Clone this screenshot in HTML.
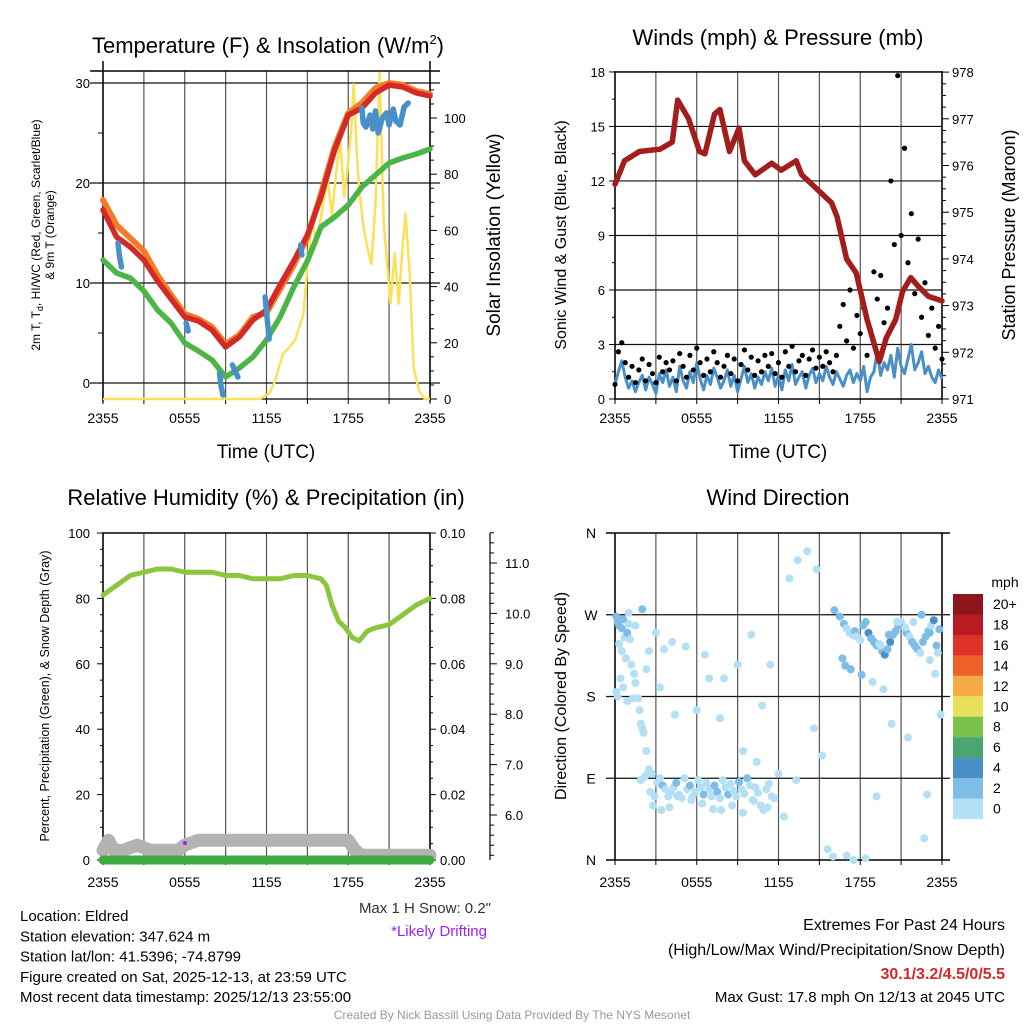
<!DOCTYPE html>
<html><head><meta charset="utf-8"><style>
html,body{margin:0;padding:0;background:#fff}
svg{display:block;font-family:"Liberation Sans",Arial,sans-serif}
</style></head><body>
<svg id="c" width="1024" height="1024" viewBox="0 0 1024 1024" xmlns="http://www.w3.org/2000/svg"></svg>
<script>
// ---------- DATA ----------
const xTickLabels = ["2355","0555","1155","1755","2355"];
const hourly = [0,1,2,3,4,5,6,7,8,9,10,11,12,13,14,15,16,17,18,19,20,21,22,23,24];
const tempRed = [17.3,14.6,13.6,12.3,10.2,8.4,6.6,6.2,5.3,3.6,4.6,6.3,7.3,9.8,12.2,14.8,18.6,23.3,26.8,27.5,29.0,29.8,29.6,29.0,28.7];
const tempOrange = [18.3,15.8,14.5,13.2,10.8,8.8,6.9,6.4,5.6,3.9,4.8,6.6,7.0,9.4,11.8,14.6,18.9,23.6,27.0,28.0,29.5,30.0,29.8,29.2,28.9];
const dewGreen = [12.3,11.0,10.5,9.2,7.3,6.0,4.0,3.2,2.3,0.6,1.5,2.6,4.3,6.6,9.6,12.2,15.6,16.6,17.8,19.6,20.8,22.0,22.5,22.9,23.4];
const hiwcHours = [1.1,1.2,1.35,null,6.1,6.25,null,8.55,8.65,8.8,null,9.5,9.7,9.9,null,11.9,12.05,12.2,null,14.5,14.6,null,19.0,19.1,19.3,19.6,19.8,20.0,20.2,20.5,20.8,21.0,21.3,21.5,21.8,22.1,22.4];
const hiwcVals = [14.0,12.8,11.6,null,6.0,5.2,null,1.0,-0.2,-1.2,null,1.8,1.2,0.6,null,8.6,6.4,4.4,null,13.8,12.8,null,27.5,26.0,25.6,26.8,25.4,27.2,25.0,26.5,27.0,25.8,27.4,26.2,25.8,27.6,28.0];
const solarHours = [0,11.5,12.2,12.6,13.2,13.6,14.1,14.7,15.3,15.7,16.2,16.5,16.8,17.1,17.4,17.7,17.9,18.2,18.4,18.6,18.8,19.1,19.4,19.7,20.0,20.3,20.6,20.9,21.1,21.4,21.7,22.0,22.2,22.5,22.8,23.2,23.6,24];
const solarVals = [0,0,2,6,16,18,21,30,64,55,71,78,65,80,93,72,80,95,112,90,75,62,54,48,70,116,63,45,34,52,34,55,66,45,11,3,0,0];
const windSpeed = [0.8,1.5,2.1,1.2,0.6,1.0,0.4,0.9,1.3,0.5,1.2,0.8,0.3,1.4,0.9,1.6,
0.7,1.2,0.4,1.8,1.0,0.6,1.5,0.9,2.0,1.1,0.5,1.3,0.8,1.7,1.2,0.6,
1.0,1.6,0.7,1.3,0.4,1.1,1.8,0.9,1.4,0.6,1.2,0.8,1.5,1.0,1.7,0.7,
1.3,0.5,1.6,1.0,1.9,0.8,1.2,1.5,0.6,1.3,1.7,0.9,1.4,1.0,1.8,1.2,
0.8,1.5,1.1,0.7,1.3,1.6,0.9,1.4,1.0,1.8,0.4,1.2,1.5,2.6,1.3,2.0,
1.6,2.4,1.2,2.8,1.8,1.4,2.2,3.0,1.6,2.0,2.6,1.4,1.8,1.2,0.9,1.6,1.1];
const windGust = [0.8,2.6,3.1,2.0,1.2,1.8,0.9,1.6,2.2,1.0,1.9,1.4,0.9,2.3,1.5,2.0,
1.6,2.1,1.0,2.5,1.8,1.2,2.4,1.6,2.8,2.0,1.3,2.2,1.5,2.6,2.0,1.2,
1.8,2.4,1.4,2.2,1.0,1.9,2.7,1.6,2.3,1.3,2.1,1.5,2.4,1.8,2.5,1.4,
2.0,1.2,2.6,1.8,2.9,1.5,2.1,2.4,1.3,2.2,2.7,1.7,2.3,1.8,2.6,2.0,
1.5,2.4,4.0,5.2,3.2,6.0,2.8,4.6,3.6,5.0,2.4,3.8,7.0,5.5,6.8,4.2,
5.0,12.0,8.5,17.8,9.0,13.8,7.5,10.2,5.8,8.8,4.5,6.4,3.5,5.0,2.8,4.0,2.2];
const pressHours = [0,0.7,1.8,3.3,4.2,4.6,5.4,6.2,6.6,7.3,7.7,8.4,9.1,9.5,10.3,11.5,12.2,13.3,13.7,14.8,15.9,16.3,17.0,17.7,18.5,19.0,19.4,19.9,20.6,21.1,21.7,22.3,23.0,24];
const pressVals = [975.6,976.1,976.3,976.35,976.5,977.4,977.0,976.3,976.25,977.1,977.2,976.3,976.8,976.1,975.8,976.05,975.9,976.1,975.8,975.5,975.2,974.9,974.0,973.7,972.7,972.2,971.8,972.3,972.7,973.3,973.6,973.4,973.2,973.1];
const rhHours = [0,1,2,3,4,5,6,8,9,10,11,12,13,14,15,16,16.4,16.8,17.3,17.8,18.3,18.8,19.4,20,21,22,23,24];
const rhVals = [81,84,87,88,89,89,88,88,87,87,86,86,86,87,87,86,84,78,73,71,68,67,70,71,72,75,78,80];
const snowHours = [0,0.4,0.8,1.5,2.5,3.5,4.5,5.5,6.0,7.0,8.0,9.0,10,11,12,13,14,15,16,17,18,18.5,19,20,21,22,23,24];
const snowVals = [5.3,5.5,5.3,5.3,5.4,5.3,5.3,5.3,5.4,5.5,5.5,5.5,5.5,5.5,5.5,5.5,5.5,5.5,5.5,5.5,5.5,5.3,5.2,5.2,5.2,5.2,5.2,5.2];
const dirHours = [0.1,0.2,0.3,0.5,0.6,0.7,0.9,1.0,1.1,0.3,0.5,0.8,1.2,1.4,0.1,0.2,0.4,0.6,0.9,1.3,1.5,1.7,1.8,1.9,2.0,2.1,2.3,2.5,2.7,1.9,2.2,2.4,2.6,2.9,3.1,3.3,3.5,3.7,3.9,4.1,4.3,4.5,4.7,4.9,5.1,5.3,5.5,5.7,5.9,6.1,6.3,6.5,6.7,6.9,7.1,7.3,7.5,7.7,7.9,8.1,8.3,8.5,8.7,8.9,9.1,9.3,9.5,9.7,9.9,10.1,10.3,10.5,10.7,10.9,11.1,11.3,11.5,11.7,2.8,3.4,4.0,4.6,5.6,6.4,7.2,7.8,8.6,9.4,10.2,11.2,3.0,4.2,5.2,6.6,8.0,9.0,10.0,1.0,1.5,2.0,2.5,3.6,2.3,4.4,3.3,7.7,6.0,6.9,9.4,10.4,12.0,13.3,14.6,16.1,16.5,16.8,17.0,17.2,17.4,17.6,17.8,18.0,18.2,18.4,18.6,18.8,19.0,19.2,19.4,19.6,19.8,20.0,20.2,20.4,20.6,20.8,21.0,21.2,21.4,21.6,21.8,22.0,22.2,22.4,22.6,22.8,23.0,23.2,23.4,23.6,23.8,16.7,17.3,18.1,18.9,19.5,20.1,20.7,21.3,21.9,22.5,23.1,23.7,16.9,17.7,19.7,20.3,21.5,22.9,12.4,12.8,13.4,14.1,14.8,15.2,15.6,16.0,17.0,17.5,18.4,19.2,22.7,23.1,23.5,23.9,10.8,11.4];
const dirVals = [268,262,258,255,265,245,250,260,243,238,230,222,215,205,185,180,200,190,175,178,195,178,165,150,145,140,120,100,95,88,92,95,75,70,85,90,82,78,70,74,80,85,72,68,90,78,82,70,75,88,80,72,85,78,70,82,75,68,88,80,72,84,76,70,86,78,73,90,82,66,80,74,60,55,78,84,70,68,60,55,58,70,66,62,56,55,60,52,65,58,250,240,235,226,200,215,248,272,258,276,230,232,210,160,190,156,165,200,120,108,95,88,145,275,268,260,255,250,248,252,246,242,258,262,250,244,240,236,238,230,226,232,240,248,252,258,262,256,250,246,240,236,232,228,240,246,252,258,264,236,254,222,210,204,196,236,248,262,256,262,270,250,228,214,246,188,150,135,72,48,310,330,340,320,115,12,4,5,0,2,70,24,220,205,160,170,215,212,20,30];
const dirSpeed = [1,1,1,1,1,0,1,0,0,0,0,0,0,0,0,0,0,0,0,0,0,0,0,0,0,0,0,0,0,0,0,0,0,0,0,0,1,0,0,0,0,1,0,0,0,0,1,0,0,0,0,1,0,0,0,1,1,0,0,0,1,0,0,0,1,0,0,1,0,0,0,0,0,0,0,0,0,0,0,0,0,0,0,0,0,0,0,0,0,0,0,0,0,0,0,0,0,0,0,1,0,0,0,0,0,0,0,0,0,0,0,0,0,1,1,1,0,0,0,1,1,0,1,1,2,1,1,1,0,1,2,1,2,1,1,1,0,1,1,0,1,1,1,0,1,1,1,0,2,1,1,1,1,1,0,0,1,0,0,0,1,1,0,1,0,0,0,0,0,0,0,0,0,0,0,0,0,0,0,0,0,0,0,0,0,0,0,0,0,0,0,0,0,0];
const colorLevels = ["20+","18","16","14","12","10","8","6","4","2","0"];
const colorSwatches = ["#8e1519","#b81b22","#dc3227","#ef6129","#f6a944","#e6e05a","#7bc14a","#4aa66f","#4a90c8","#7dbde6","#b3e0f5"];

// ---------- HELPERS ----------
const NS="http://www.w3.org/2000/svg";
const svg=document.getElementById('c');
function mk(tag,attrs,parent){const e=document.createElementNS(NS,tag);for(const k in attrs)e.setAttribute(k,attrs[k]);(parent||svg).appendChild(e);return e;}
function txt(s,x,y,size,anchor,parent,extra){const e=mk('text',Object.assign({x:x,y:y,'font-size':size,'text-anchor':anchor||'middle',fill:'#000'},extra||{}),parent);e.textContent=s;return e;}
function lin(x1,y1,x2,y2,stroke,w,parent){return mk('line',{x1,y1,x2,y2,stroke,'stroke-width':w},parent);}
function linePath(hs,vs,fx,fy){let d='',pen=false;for(let i=0;i<hs.length;i++){if(hs[i]===null||vs[i]===null){pen=false;continue;}d+=(pen?'L':'M')+fx(hs[i]).toFixed(1)+','+fy(vs[i]).toFixed(1);pen=true;}return d;}

function panel(name,L,R,T,B){
  const g=mk('g',{},svg);
  
  
  const fx=h=>L+h/24*(R-L);
  return {g,fx,L,R,T,B};
}
function timeAxis(p,labY,grid){
  for(let k=0;k<=8;k++){const x=p.fx(k*3);
    if(grid){const gl=lin(x,p.T,x,p.B,'#555',1.2,p.g);}
    lin(x,p.B,x,p.B+5,'#000',1,p.g);}
  xTickLabels.forEach((s,i)=>{const t=txt(s,p.fx(i*6),labY,14,'middle',p.g);});
}

// ---------- PANEL 1 ----------
{
const p=panel('temperature-panel',103,430,71,399);
const fy=v=>383-v*10, fs=v=>399-v*2.81;
timeAxis(p,423,true);
[0,10,20,30].forEach(v=>{const gl=lin(90,fy(v),440,fy(v),'#111',1.2,p.g);});
lin(90,p.T,440,p.T,'#000',1.5,p.g);
lin(p.L,p.T-10,p.L,p.B+3,'#000',1.5,p.g);
lin(p.R,p.T-10,p.R,p.B+3,'#000',1.5,p.g);
lin(p.L,p.B,p.R,p.B,'#000',1.2,p.g);
for(let v=0;v<=30;v+=5){lin(p.L-5,fy(v),p.L,fy(v),'#000',1,p.g);}
[0,10,20,30].forEach(v=>{const t=txt(String(v),90,fy(v)+5,13,'end',p.g);});
for(let v=0;v<=110;v+=5){lin(p.R,fs(v),p.R+(v%20==0?7:4),fs(v),'#000',1,p.g);}
[0,20,40,60,80,100].forEach(v=>{const t=txt(String(v),p.R+14,fs(v)+5,13,'start',p.g);});
const so=mk('path',{d:linePath(solarHours,solarVals,p.fx,fs),fill:'none',stroke:'#fbe158','stroke-width':2.5,'stroke-linejoin':'round'},p.g);

const or=mk('path',{d:linePath(hourly,tempOrange,p.fx,fy),fill:'none',stroke:'#f47b2a','stroke-width':6,'stroke-linejoin':'round','stroke-linecap':'round'},p.g);

const rd=mk('path',{d:linePath(hourly,tempRed,p.fx,fy),fill:'none',stroke:'#d42a26','stroke-width':5.5,'stroke-linejoin':'round','stroke-linecap':'round'},p.g);

const gr=mk('path',{d:linePath(hourly,dewGreen,p.fx,fy),fill:'none',stroke:'#4bb547','stroke-width':5.5,'stroke-linejoin':'round','stroke-linecap':'round'},p.g);

const bl=mk('path',{d:linePath(hiwcHours,hiwcVals,p.fx,fy),fill:'none',stroke:'#4a90c8','stroke-width':5.5,'stroke-linejoin':'round','stroke-linecap':'round'},p.g);

const t1=mk('text',{x:268,y:53,'font-size':22,'text-anchor':'middle',fill:'#000'},p.g);
t1.innerHTML='Temperature (F) &amp; Insolation (W/m<tspan font-size="13" dy="-9">2</tspan><tspan dy="9">)</tspan>';

const a1=mk('text',{x:0,y:0,'font-size':12,'text-anchor':'middle',fill:'#000',transform:'translate(40,235) rotate(-90)'},p.g);
a1.innerHTML='2m T, T<tspan font-size="9" dy="3">d</tspan><tspan dy="-3">, HI/WC (Red, Green, Scarlet/Blue)</tspan>';

txt('& 9m T (Orange)',0,0,12,'middle',p.g,{transform:'translate(54,235) rotate(-90)'});
const a2=txt('Solar Insolation (Yellow)',0,0,19,'middle',p.g,{transform:'translate(500,235) rotate(-90)'});

const xt=txt('Time (UTC)',266,458,19,'middle',p.g);
}

// ---------- PANEL 2 ----------
{
const p=panel('wind-pressure-panel',615,942,71,399);
const fy=v=>399-v*18.17, fp=v=>399-(v-971)*46.7;
timeAxis(p,423,true);
[3,6,9,12,15].forEach(v=>{const gl=lin(p.L,fy(v),p.R,fy(v),'#111',1.2,p.g);});
mk('rect',{x:p.L,y:fy(18),width:p.R-p.L,height:fy(0)-fy(18),fill:'none',stroke:'#000','stroke-width':1.5},p.g);
for(let v=0;v<=18;v+=1.5){lin(p.L-(v%3==0?6:3),fy(v),p.L,fy(v),'#000',1,p.g);}
[0,3,6,9,12,15,18].forEach(v=>{const t=txt(String(v),p.L-10,fy(v)+5,13,'end',p.g);});
for(let v=971;v<=978;v+=0.25){lin(p.R,fp(v),p.R+(Math.abs(v-Math.round(v))<0.01?7:4),fp(v),'#000',1,p.g);}
for(let v=971;v<=978;v++){const t=txt(String(v),p.R+10,fp(v)+5,13,'start',p.g);}
const step=i=>i*0.25;
const hs=windSpeed.map((_,i)=>step(i));
const ws=mk('path',{d:linePath(hs,windSpeed,p.fx,fy),fill:'none',stroke:'#4a90c8','stroke-width':3,'stroke-linejoin':'round'},p.g);

windGust.forEach((v,i)=>{const c=mk('circle',{cx:p.fx(step(i)),cy:fy(v),r:2.6,fill:'#000'},p.g);

});
const pr=mk('path',{d:linePath(pressHours,pressVals,p.fx,fp),fill:'none',stroke:'#a31d1d','stroke-width':5.5,'stroke-linejoin':'round','stroke-linecap':'round'},p.g);

const t=txt('Winds (mph) & Pressure (mb)',778,45,22,'middle',p.g);
const a=txt('Sonic Wind & Gust (Blue, Black)',0,0,16,'middle',p.g,{transform:'translate(566,235) rotate(-90)'});
const b=txt('Station Pressure (Maroon)',0,0,18,'middle',p.g,{transform:'translate(1015,235) rotate(-90)'});
const xt=txt('Time (UTC)',778,458,19,'middle',p.g);
}

// ---------- PANEL 3 ----------
{
const p=panel('humidity-precip-panel',103,430,533,860);
const fy=v=>860-v*3.27, fsn=v=>815-(v-6)*50.4;
timeAxis(p,887,true);
mk('rect',{x:p.L,y:p.T,width:p.R-p.L,height:p.B-p.T,fill:'none',stroke:'#000','stroke-width':1.5},p.g);
for(let v=0;v<=100;v+=5){lin(p.L-(v%20==0?6:3),fy(v),p.L,fy(v),'#000',1,p.g);}
[0,20,40,60,80,100].forEach(v=>{const t=txt(String(v),p.L-13,fy(v)+5,13,'end',p.g);});
for(let v=0;v<=100;v+=5){lin(p.R,fy(v),p.R+(v%20==0?6:3),fy(v),'#000',1,p.g);}
["0.00","0.02","0.04","0.06","0.08","0.10"].forEach((s,i)=>{const t=txt(s,p.R+10,fy(i*20)+5,13,'start',p.g);});
lin(490,533,490,860,'#000',1.2,p.g);
for(let v=5.2;v<=11.6;v+=0.2){lin(490,fsn(v),490+(Math.abs(v-Math.round(v))<0.01?7:4),fsn(v),'#000',1,p.g);}
["6.0","7.0","8.0","9.0","10.0","11.0"].forEach((s,i)=>{const t=txt(s,505,fsn(6+i)+5,13,'start',p.g);});
const sn=mk('path',{d:linePath(snowHours,snowVals,p.fx,fsn),fill:'none',stroke:'#b3b3b3','stroke-width':13,'stroke-linejoin':'round','stroke-linecap':'round'},p.g);

const pc=lin(p.fx(0),fy(0),p.fx(24),fy(0),'#3faa3f',9,p.g);pc.setAttribute('stroke-linecap','round');

const rh=mk('path',{d:linePath(rhHours,rhVals,p.fx,fy),fill:'none',stroke:'#8cc63f','stroke-width':5,'stroke-linejoin':'round','stroke-linecap':'round'},p.g);

const dr=mk('circle',{cx:185,cy:843,r:2,fill:'#a020f0'},p.g);
const t=txt('Relative Humidity (%) & Precipitation (in)',266,505,22,'middle',p.g);
const a=txt('Percent, Precipitation (Green), & Snow Depth (Gray)',0,0,12.5,'middle',p.g,{transform:'translate(49,696) rotate(-90)'});
const m=txt('Max 1 H Snow: 0.2"',491,913,15,'end',p.g,{fill:'#333'});
const d=txt('*Likely Drifting',487,936,15,'end',p.g,{fill:'#a020f0'});
}

// ---------- PANEL 4 ----------
{
const p=panel('wind-direction-panel',615,942,533,860);
const fy=d=>860-d*(327/360);
timeAxis(p,887,true);
[90,180,270].forEach(v=>{const gl=lin(606,fy(v),950,fy(v),'#111',1.2,p.g);});
lin(606,p.T,950,p.T,'#000',1.5,p.g);lin(606,p.B,950,p.B,'#000',1.5,p.g);
lin(p.L,p.T,p.L,p.B,'#000',1.5,p.g);lin(p.R,p.T,p.R,p.B,'#000',1.5,p.g);
["N","E","S","W","N"].forEach((s,i)=>{const t=txt(s,591,fy(i*90)+5,14,'middle',p.g);});
const spdColors=['#b3e0f5','#7dbde6','#4a90c8'];
dirHours.forEach((h,i)=>{const c=mk('circle',{cx:p.fx(h),cy:fy(dirVals[i]),r:4,fill:spdColors[dirSpeed[i]]},p.g);

});
const t=txt('Wind Direction',778,505,22,'middle',p.g);
const a=txt('Direction (Colored By Speed)',0,0,16,'middle',p.g,{transform:'translate(566,696) rotate(-90)'});
const cb=mk('g',{},svg);
txt('mph',1005,587,14,'middle',cb);
colorSwatches.forEach((c,i)=>{const y=594+i*20.45;const r=mk('rect',{x:953,y:y,width:30,height:20.6,fill:c},cb);

const t=txt(colorLevels[i],993,y+15,14,'start',cb);});
}

// ---------- FOOTER TEXT ----------
{
const g=mk('g',{},svg);
["Location: Eldred","Station elevation: 347.624 m","Station lat/lon: 41.5396; -74.8799","Figure created on Sat, 2025-12-13, at 23:59 UTC","Most recent data timestamp: 2025/12/13 23:55:00"].forEach((s,i)=>txt(s,20,921+i*20.3,15,'start',g));
const e=mk('g',{},svg);
txt('Extremes For Past 24 Hours',1005,930,16,'end',e);
txt('(High/Low/Max Wind/Precipitation/Snow Depth)',1005,955,16,'end',e);
txt('30.1/3.2/4.5/0/5.5',1005,979,16,'end',e,{fill:'#d42a26','font-weight':'bold'});
txt('Max Gust: 17.8 mph On 12/13 at 2045 UTC',1005,1002,15,'end',e);
const c=txt('Created By Nick Bassill Using Data Provided By The NYS Mesonet',512,1019,12,'middle',svg,{fill:'#999'});

}
</script>
</body></html>
